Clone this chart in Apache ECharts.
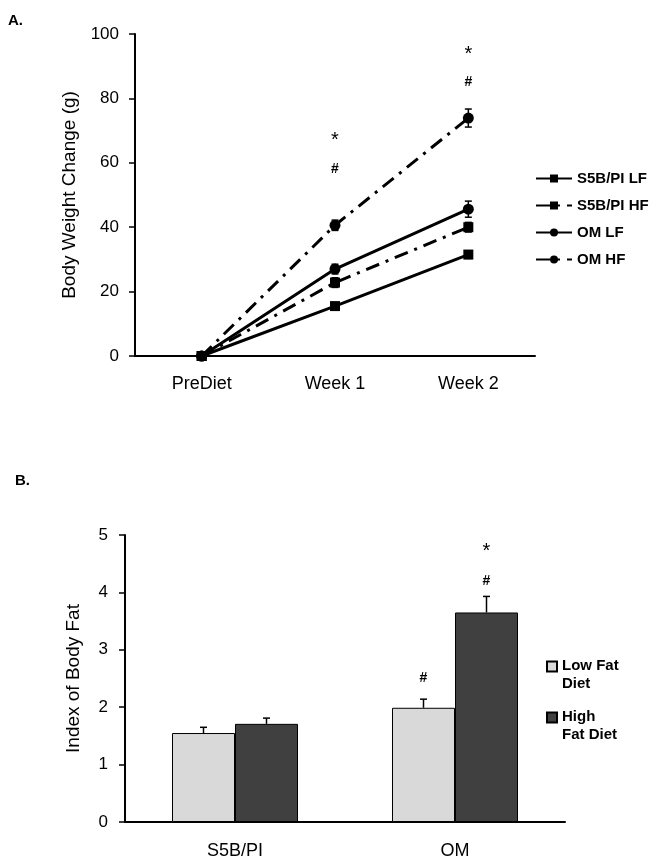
<!DOCTYPE html>
<html>
<head>
<meta charset="utf-8">
<script src="https://cdn.jsdelivr.net/npm/echarts@6/dist/echarts.min.js"></script>
<style>
    html, body { margin: 0; padding: 0; background: #fff; }
    #chart { width: 658px; height: 862px; }
</style>
</head>
<body>
<div id="chart"></div>
<script>
// panel A: body weight change
const weeks = ['PreDiet', 'Week 1', 'Week 2']
const s5bLF = [0, 15.5, 31.5]
const s5bHF = [0, 22.8, 40]
const omLF = [0, 27, 45.6]
const omHF = [0, 40.6, 73.9]
const s5bLFErr = [0, 1, 1.2]
const s5bHFErr = [0, 1.5, 1.5]
const omLFErr = [0, 1.5, 2.5]
const omHFErr = [0, 1.6, 2.8]
const annotA = [[1, 67, '*'], [1, 58, '#'], [2, 93.5, '*'], [2, 85, '#']]

// panel B: index of body fat
const strains = ['S5B/PI', 'OM']
const lowFat = [1.55, 1.99]
const highFat = [1.71, 3.65]
const lowFatErr = [0.1, 0.15]
const highFatErr = [0.1, 0.28]
// [strain index, side (-1 low, 1 high), value, text]
const annotB = [[1, -1, 2.5, '#'], [1, 1, 4.2, '#'], [1, 1, 4.72, '*']]

const FONT = 'Liberation Sans, Arial, sans-serif'
const BAR_W = 63

let chart = echarts.init(document.getElementById('chart'))

function errData (vals, errs) {
    return vals.map((v, i) => [i, v, errs[i]])
}

function errBarA (params, api) {
    let i = api.value(0), v = api.value(1), e = api.value(2)
    if (!e) return null
    let top = api.coord([i, v + e]), bot = api.coord([i, v - e])
    let x = top[0]
    let s = { stroke: '#000', lineWidth: 1.5 }
    return {
        type: 'group',
        children: [
            { type: 'line', shape: { x1: x, y1: top[1], x2: x, y2: bot[1] }, style: s },
            { type: 'line', shape: { x1: x - 3.5, y1: top[1], x2: x + 3.5, y2: top[1] }, style: s },
            { type: 'line', shape: { x1: x - 3.5, y1: bot[1], x2: x + 3.5, y2: bot[1] }, style: s }
        ]
    }
}

function errBarB (side) {
    return function (params, api) {
        let i = api.value(0), v = api.value(1), e = api.value(2)
        let top = api.coord([i, v + e]), base = api.coord([i, v])
        let x = top[0] + side * BAR_W / 2
        let s = { stroke: '#000', lineWidth: 1.5 }
        return {
            type: 'group',
            children: [
                { type: 'line', shape: { x1: x, y1: top[1], x2: x, y2: base[1] }, style: s },
                { type: 'line', shape: { x1: x - 3.5, y1: top[1], x2: x + 3.5, y2: top[1] }, style: s }
            ]
        }
    }
}

function annotText (withSide) {
    return function (params, api) {
        let p, txt
        if (withSide) {
            let d = annotB[params.dataIndex]
            p = api.coord([d[0], d[2]])
            p[0] += d[1] * BAR_W / 2
            txt = d[3]
        } else {
            let d = annotA[params.dataIndex]
            p = api.coord([d[0], d[1]])
            txt = d[2]
        }
        return {
            type: 'text',
            x: p[0],
            y: p[1],
            style: {
                text: txt,
                align: 'center',
                verticalAlign: 'middle',
                fill: '#000',
                font: (txt === '*' ? 'normal 20px ' : 'bold 14px ') + FONT
            }
        }
    }
}

const dashDot = [14, 7, 3, 7]
// square sitting at the top of a taller box, so it lines up with the first text line
const topSquare = 'path://M0,0H10V10H0Z M10,27L10,27.01'

chart.setOption({
    animation: false,
    textStyle: { fontFamily: FONT, color: '#000' },
    title: [
        { text: 'A.', left: 3, top: 8, textStyle: { fontSize: 15, fontWeight: 'bold', color: '#000', fontFamily: FONT } },
        { text: 'B.', left: 10, top: 468, textStyle: { fontSize: 15, fontWeight: 'bold', color: '#000', fontFamily: FONT } }
    ],
    legend: [
        {
            orient: 'vertical',
            left: 530,
            top: 166,
            itemWidth: 36,
            itemHeight: 10,
            itemGap: 12,
            textStyle: { fontSize: 15, fontWeight: 'bold', color: '#000', fontFamily: FONT },
            data: ['S5B/PI LF', 'S5B/PI HF', 'OM LF', 'OM HF']
        },
        {
            orient: 'vertical',
            left: 541,
            top: 652,
            itemWidth: 10,
            itemHeight: 27,
            itemGap: 15,
            icon: topSquare,
            textStyle: { fontSize: 15, fontWeight: 'bold', color: '#000', fontFamily: FONT, lineHeight: 18 },
            formatter: function (name) {
                return name === 'Low Fat Diet' ? 'Low Fat\nDiet' : 'High\nFat Diet'
            },
            data: ['Low Fat Diet', 'High Fat Diet']
        }
    ],
    grid: [
        { left: 135, top: 34, width: 400, height: 322 },
        { left: 125, top: 535, width: 440, height: 287 }
    ],
    xAxis: [
        {
            gridIndex: 0,
            type: 'category',
            data: weeks,
            axisLine: { lineStyle: { color: '#000', width: 2 } },
            axisTick: { length: 6, lineStyle: { color: '#000', width: 1.5 } },
            axisLabel: { fontSize: 18, color: '#000', margin: 19, fontFamily: FONT }
        },
        {
            gridIndex: 1,
            type: 'category',
            data: strains,
            axisLine: { lineStyle: { color: '#000', width: 2 } },
            axisTick: { length: 6, lineStyle: { color: '#000', width: 1.5 } },
            axisLabel: { fontSize: 18, color: '#000', margin: 20, fontFamily: FONT }
        }
    ],
    yAxis: [
        {
            gridIndex: 0,
            type: 'value',
            min: 0,
            max: 100,
            interval: 20,
            name: 'Body Weight Change (g)',
            nameLocation: 'middle',
            nameGap: 51,
            nameTextStyle: { fontSize: 19, color: '#000', fontFamily: FONT },
            axisLine: { show: true, lineStyle: { color: '#000', width: 2 } },
            axisTick: { show: true, length: 6, lineStyle: { color: '#000', width: 1.5 } },
            axisLabel: { fontSize: 17, color: '#000', margin: 16, fontFamily: FONT },
            splitLine: { show: false }
        },
        {
            gridIndex: 1,
            type: 'value',
            min: 0,
            max: 5,
            interval: 1,
            name: 'Index of Body Fat',
            nameLocation: 'middle',
            nameGap: 42,
            nameTextStyle: { fontSize: 19, color: '#000', fontFamily: FONT },
            axisLine: { show: true, lineStyle: { color: '#000', width: 2 } },
            axisTick: { show: true, length: 6, lineStyle: { color: '#000', width: 1.5 } },
            axisLabel: { fontSize: 17, color: '#000', margin: 17, fontFamily: FONT },
            splitLine: { show: false }
        }
    ],
    series: [
        {
            name: 'S5B/PI LF',
            type: 'line',
            data: s5bLF,
            symbol: 'rect',
            symbolSize: 10,
            lineStyle: { color: '#000', width: 3 },
            itemStyle: { color: '#000' }
        },
        {
            name: 'S5B/PI HF',
            type: 'line',
            data: s5bHF,
            symbol: 'rect',
            symbolSize: 10,
            lineStyle: { color: '#000', width: 3, type: dashDot },
            itemStyle: { color: '#000' }
        },
        {
            name: 'OM LF',
            type: 'line',
            data: omLF,
            symbol: 'circle',
            symbolSize: 11,
            lineStyle: { color: '#000', width: 3 },
            itemStyle: { color: '#000' }
        },
        {
            name: 'OM HF',
            type: 'line',
            data: omHF,
            symbol: 'circle',
            symbolSize: 11,
            lineStyle: { color: '#000', width: 3, type: dashDot },
            itemStyle: { color: '#000' }
        },
        { type: 'custom', renderItem: errBarA, data: errData(s5bLF, s5bLFErr), z: 3 },
        { type: 'custom', renderItem: errBarA, data: errData(s5bHF, s5bHFErr), z: 3 },
        { type: 'custom', renderItem: errBarA, data: errData(omLF, omLFErr), z: 3 },
        { type: 'custom', renderItem: errBarA, data: errData(omHF, omHFErr), z: 3 },
        { type: 'custom', renderItem: annotText(false), data: annotA.map(d => [d[0], d[1]]) },
        {
            name: 'Low Fat Diet',
            type: 'bar',
            xAxisIndex: 1,
            yAxisIndex: 1,
            data: lowFat,
            barWidth: BAR_W,
            barGap: '0%',
            itemStyle: { color: '#d9d9d9', borderColor: '#000', borderWidth: 1 }
        },
        {
            name: 'High Fat Diet',
            type: 'bar',
            xAxisIndex: 1,
            yAxisIndex: 1,
            data: highFat,
            barWidth: BAR_W,
            barGap: '0%',
            itemStyle: { color: '#404040', borderColor: '#000', borderWidth: 1 }
        },
        { type: 'custom', xAxisIndex: 1, yAxisIndex: 1, renderItem: errBarB(-1), data: errData(lowFat, lowFatErr), z: 3 },
        { type: 'custom', xAxisIndex: 1, yAxisIndex: 1, renderItem: errBarB(1), data: errData(highFat, highFatErr), z: 3 },
        { type: 'custom', xAxisIndex: 1, yAxisIndex: 1, renderItem: annotText(true), data: annotB.map(d => [d[0], d[2]]) }
    ]
})
</script>
</body>
</html>
